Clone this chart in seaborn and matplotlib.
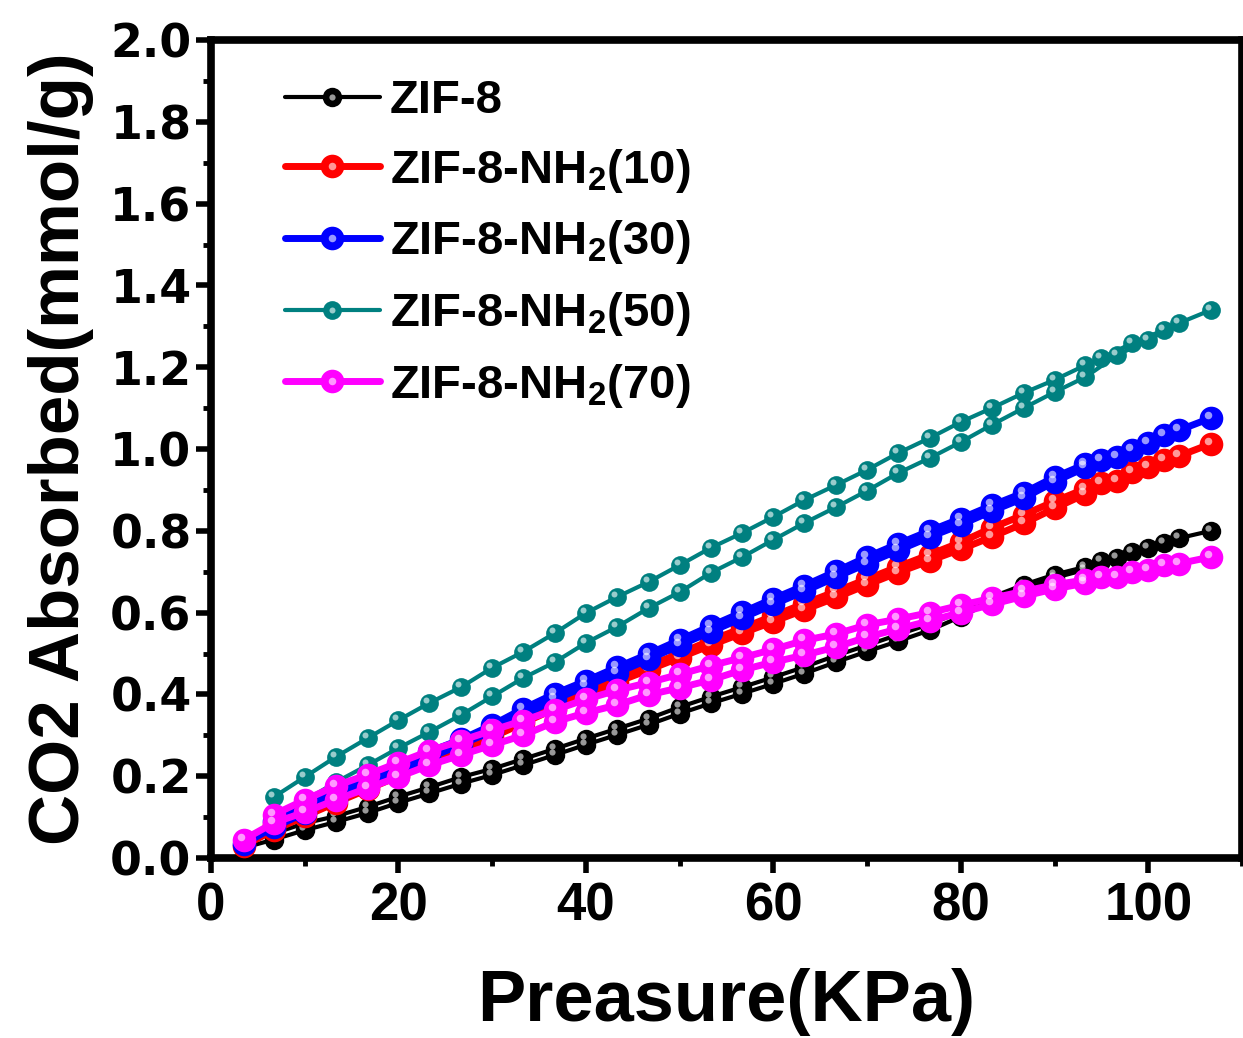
import matplotlib
matplotlib.use("Agg")
import seaborn as sns
import matplotlib.pyplot as plt
from matplotlib.lines import Line2D
from matplotlib.legend_handler import HandlerTuple
from matplotlib.transforms import offset_copy
from matplotlib.ticker import MultipleLocator

# pressure grid (kPa), adsorption up and desorption back down
p_ads = [3.5, 6.7, 10.0, 13.3, 16.7, 20.0, 23.3, 26.7, 30.0, 33.3, 36.7, 40.0, 43.3, 46.7, 50.0, 53.3,
         56.7, 60.0, 63.3, 66.7, 70.0, 73.3, 76.7, 80.0, 83.3, 86.7, 90.0, 93.3, 96.7, 100.0, 103.3, 106.7]
p_des = [101.7, 98.3, 95.0, 93.3, 90.0, 86.7, 83.3, 80.0, 76.7, 73.3, 70.0, 66.7, 63.3, 60.0, 56.7,
         53.3, 50.0, 46.7, 43.3, 40.0, 36.7, 33.3, 30.0, 26.7, 23.3, 20.0, 16.7, 13.3, 10.0, 6.7]

# CO2 uptake (mmol/g)
zif8_ads = [0.025, 0.045, 0.068, 0.088, 0.11, 0.135, 0.158, 0.182, 0.203, 0.227, 0.252, 0.277, 0.301, 0.326,
            0.353, 0.378, 0.402, 0.426, 0.451, 0.479, 0.505, 0.53, 0.557, 0.59, 0.627, 0.658, 0.685, 0.705,
            0.733, 0.758, 0.782, 0.8]
zif8_des = [0.77, 0.748, 0.725, 0.712, 0.693, 0.668, 0.638, 0.602, 0.572, 0.546, 0.52, 0.495, 0.467, 0.442,
            0.418, 0.394, 0.369, 0.341, 0.316, 0.292, 0.267, 0.242, 0.218, 0.198, 0.173, 0.15, 0.125, 0.102,
            0.085, 0.06]
nh10_ads = [0.03, 0.068, 0.102, 0.135, 0.168, 0.2, 0.232, 0.263, 0.295, 0.33, 0.365, 0.398, 0.43, 0.46,
            0.49, 0.52, 0.55, 0.578, 0.607, 0.637, 0.668, 0.698, 0.727, 0.755, 0.785, 0.818, 0.855, 0.89,
            0.922, 0.955, 0.983, 1.013]
nh10_des = [0.973, 0.944, 0.917, 0.903, 0.872, 0.839, 0.807, 0.772, 0.742, 0.712, 0.682, 0.652, 0.622, 0.592,
            0.562, 0.532, 0.5, 0.47, 0.44, 0.41, 0.377, 0.342, 0.308, 0.275, 0.243, 0.21, 0.178, 0.145,
            0.112, 0.08]
nh30_ads = [0.035, 0.075, 0.11, 0.145, 0.18, 0.213, 0.245, 0.278, 0.31, 0.348, 0.388, 0.42, 0.452, 0.486,
            0.52, 0.553, 0.587, 0.62, 0.652, 0.687, 0.72, 0.752, 0.785, 0.815, 0.848, 0.88, 0.92, 0.955,
            0.98, 1.015, 1.046, 1.076]
nh30_des = [1.034, 0.998, 0.973, 0.963, 0.931, 0.893, 0.862, 0.83, 0.8, 0.768, 0.736, 0.701, 0.666, 0.634,
            0.601, 0.567, 0.533, 0.499, 0.466, 0.433, 0.402, 0.365, 0.325, 0.29, 0.26, 0.228, 0.195, 0.16,
            0.125, 0.09]
nh50_ads = [0.04, 0.09, 0.14, 0.185, 0.227, 0.269, 0.308, 0.35, 0.395, 0.44, 0.479, 0.526, 0.565, 0.611,
            0.65, 0.697, 0.736, 0.778, 0.819, 0.858, 0.898, 0.941, 0.978, 1.017, 1.059, 1.1, 1.139, 1.176,
            1.23, 1.266, 1.308, 1.34]
nh50_des = [1.291, 1.259, 1.222, 1.205, 1.169, 1.137, 1.1, 1.066, 1.027, 0.99, 0.949, 0.912, 0.875, 0.834,
            0.795, 0.758, 0.716, 0.675, 0.638, 0.599, 0.55, 0.504, 0.465, 0.418, 0.379, 0.337, 0.293, 0.247,
            0.198, 0.149]
nh70_ads = [0.045, 0.086, 0.112, 0.142, 0.171, 0.198, 0.227, 0.252, 0.276, 0.3, 0.333, 0.355, 0.374, 0.399,
            0.416, 0.435, 0.46, 0.479, 0.496, 0.516, 0.54, 0.56, 0.58, 0.6, 0.62, 0.64, 0.658, 0.672,
            0.688, 0.705, 0.72, 0.736]
nh70_des = [0.716, 0.699, 0.687, 0.68, 0.668, 0.652, 0.635, 0.618, 0.6, 0.584, 0.57, 0.548, 0.532, 0.51,
            0.49, 0.47, 0.449, 0.429, 0.41, 0.388, 0.362, 0.336, 0.312, 0.287, 0.262, 0.233, 0.204, 0.176,
            0.142, 0.106]

labels = ['ZIF-8', 'ZIF-8-NH$_2$(10)', 'ZIF-8-NH$_2$(30)', 'ZIF-8-NH$_2$(50)', 'ZIF-8-NH$_2$(70)']
colors = ['#000000', '#ff0000', '#0000ff', '#008080', '#ff00ff']
ads_sets = [zif8_ads, nh10_ads, nh30_ads, nh50_ads, nh70_ads]
des_sets = [zif8_des, nh10_des, nh30_des, nh50_des, nh70_des]
line_w = [3.0, 5.0, 5.0, 3.0, 5.0]
mark_s = [14, 17, 17, 13.5, 17]
z_ord = [3, 4, 5, 3, 6]

sns.set_style("white")
plt.rcParams['font.family'] = ['Liberation Sans', 'DejaVu Sans']
plt.rcParams['font.weight'] = 'bold'
plt.rcParams['text.color'] = 'black'
plt.rcParams['axes.labelcolor'] = 'black'
plt.rcParams['xtick.color'] = 'black'
plt.rcParams['ytick.color'] = 'black'
plt.rcParams['mathtext.fontset'] = 'custom'
plt.rcParams['mathtext.rm'] = 'Liberation Sans:bold'
plt.rcParams['mathtext.it'] = 'Liberation Sans:bold'
plt.rcParams['mathtext.bf'] = 'Liberation Sans:bold'
plt.rcParams['mathtext.default'] = 'regular'

fig = plt.figure(figsize=(12.43, 10.38), dpi=100)
ax = fig.add_axes([211 / 1243, 1 - 858 / 1038, 1031 / 1243, 818 / 1038])
glint = offset_copy(ax.transData, fig=fig, x=-3, y=3, units='dots')

handles = []
for i in range(5):
    c = colors[i]
    for px, py in [(p_ads, ads_sets[i]), (p_des, des_sets[i])]:
        sns.lineplot(x=px, y=py, sort=False, estimator=None, color=c, lw=line_w[i],
                     marker='o', markeredgewidth=0, markeredgecolor=c,
                     ax=ax, zorder=z_ord[i])
        ax.lines[-1].set_markersize(mark_s[i])
        # small white highlight to give the balls a shaded look
        ax.plot(px, py, 'o', ms=mark_s[i] * 0.32, color='white', alpha=0.6, mew=0,
                transform=glint, zorder=z_ord[i] + 0.1)
    h_line = Line2D([], [], color=c, lw=line_w[i], marker='o', ms=mark_s[i], mew=0)
    h_dot = Line2D([], [], ls='none', marker='o', ms=mark_s[i] * 0.32, color='white', alpha=0.6, mew=0)
    handles.append((h_line, h_dot))

ax.set_xlim(0, 110)
ax.set_ylim(0, 2.0)
ax.xaxis.set_major_locator(MultipleLocator(20))
ax.xaxis.set_minor_locator(MultipleLocator(10))
ax.yaxis.set_major_locator(MultipleLocator(0.2))
ax.yaxis.set_minor_locator(MultipleLocator(0.1))
ax.yaxis.set_major_formatter(plt.FuncFormatter(lambda v, p: f'{v:.1f}'))

for s in ax.spines.values():
    s.set_linewidth(5.5)
    s.set_color('black')
ax.tick_params(which='major', direction='out', length=11, width=4, color='black',
               bottom=True, left=True, top=False, right=False)
ax.tick_params(which='minor', direction='out', length=6, width=3.5, color='black',
               bottom=True, left=True, top=False, right=False)
ax.tick_params(axis='x', which='major', labelsize=38, pad=6)
ax.tick_params(axis='y', which='major', pad=3)
for t in ax.get_yticklabels():
    t.set_fontfamily('DejaVu Sans')
    t.set_fontsize(33)
    t.set_fontweight('bold')

ax.set_xlabel('Preasure(KPa)', fontsize=52, fontweight='bold', labelpad=26)
ax.set_ylabel('CO2 Absorbed(mmol/g)', fontsize=51, fontweight='bold', labelpad=12)

ax.legend(handles, labels, handler_map={tuple: HandlerTuple(ndivide=1)}, loc='upper left',
          bbox_to_anchor=(0.072, 0.952), frameon=False, fontsize=34, handlelength=2.0,
          handletextpad=0.22, labelspacing=0.5, borderpad=0, borderaxespad=0)

fig.savefig('out.png', dpi=100)
